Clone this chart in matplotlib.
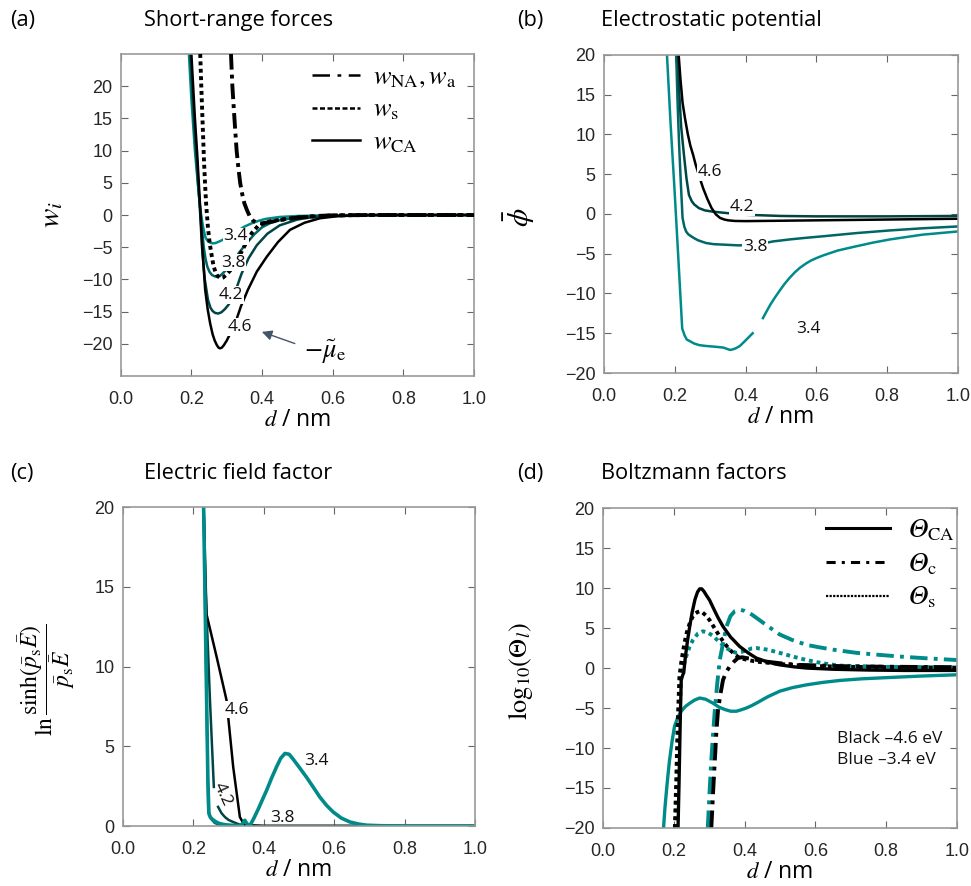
import numpy as np
import matplotlib
matplotlib.use("Agg")
import matplotlib.pyplot as plt

plt.rcParams['font.family'] = ['Liberation Sans', 'DejaVu Sans']
plt.rcParams['mathtext.fontset'] = 'stix'
nan = np.nan

# ---------------- data ----------------
# (a) short-range forces
a_NA_d = [0.312, 0.316, 0.320, 0.324, 0.328, 0.333, 0.338, 0.344, 0.350, 0.357, 0.365, 0.375, 0.385, 0.40, 0.42, 0.45, 0.5, 0.55, 0.6, 0.7, 0.8, 1.0]
a_NA_w = [25, 20, 16.5, 13.2, 10, 7.3, 5, 3.2, 1.8, 0.8, -0.2, -0.9, -1.2, -1.3, -1.1, -0.8, -0.4, -0.15, -0.05, 0, 0, 0]
a_s_d = [0.225, 0.228, 0.230, 0.233, 0.236, 0.239, 0.242, 0.247, 0.251, 0.255, 0.259, 0.263, 0.268, 0.272, 0.277, 0.283, 0.29, 0.30, 0.31, 0.32, 0.331, 0.342, 0.356, 0.371, 0.39, 0.42, 0.46, 0.5, 0.6, 0.7, 1.0]
a_s_w = [25, 20, 17, 12.5, 8, 4.5, 1.5, -2, -4, -5.5, -6.8, -8, -8.8, -9.3, -9.6, -9.8, -9.7, -9.2, -8.6, -7.8, -6.8, -5.7, -4.2, -2.8, -1.6, -1.0, -0.65, -0.4, -0.05, 0, 0]
a34_d = [0.193, 0.197, 0.200, 0.205, 0.210, 0.218, 0.225, 0.232, 0.236, 0.240, 0.245, 0.250, 0.256, 0.262, 0.268, 0.275, 0.287, 0.30, 0.315, 0.33, 0.35, 0.37, 0.39, 0.41, 0.45, 0.5, 0.6, 0.7, 1.0]
a34_w = [25, 21, 18, 14, 10, 5, 1, -1.5, -2.6, -3.5, -3.95, -4.2, -4.35, -4.4, -4.35, -4.2, -3.9, -3.5, -3.0, -2.5, -1.8, -1.3, -0.9, -0.6, -0.3, -0.15, -0.03, 0, 0]
a38_d = [0.196, 0.200, 0.203, 0.207, 0.212, 0.220, 0.228, 0.235, 0.240, 0.245, 0.251, 0.258, 0.265, 0.272, 0.28, 0.29, 0.30, 0.32, 0.337, 0.356, 0.378, 0.40, 0.425, 0.45, 0.5, 0.6, 0.7, 1.0]
a38_w = [25, 21, 18, 14, 10, 4, -1, -5, -6.8, -8, -8.8, -9.3, -9.5, -9.6, -9.5, -9.0, -8.4, -7, -5.7, -4.4, -3.0, -1.9, -1.2, -0.8, -0.35, -0.05, 0, 0]
a42_d = [0.198, 0.202, 0.206, 0.210, 0.215, 0.223, 0.230, 0.238, 0.247, 0.254, 0.26, 0.267, 0.276, 0.285, 0.295, 0.304, 0.314, 0.328, 0.342, 0.362, 0.385, 0.415, 0.45, 0.5, 0.545, 0.6, 0.7, 1.0]
a42_w = [25, 20.5, 17, 13, 9, 2, -5, -10, -13.2, -14.4, -14.9, -15.2, -15.3, -15.1, -14.6, -14.0, -13.2, -11.3, -9.1, -6.7, -4.7, -2.9, -1.6, -0.7, -0.3, -0.1, 0, 0]
a46_d = [0.200, 0.205, 0.210, 0.217, 0.225, 0.232, 0.239, 0.246, 0.253, 0.260, 0.266, 0.272, 0.277, 0.281, 0.286, 0.292, 0.30, 0.31, 0.324, 0.34, 0.36, 0.385, 0.413, 0.445, 0.479, 0.52, 0.564, 0.61, 0.65, 0.7, 0.75, 1.0]
a46_w = [25, 20, 15, 9, 1, -6, -11.6, -14.6, -16.8, -18.5, -19.5, -20.2, -20.6, -20.7, -20.6, -20.2, -19.5, -18.4, -16.8, -14.2, -11.6, -8.8, -6.5, -4.2, -2.3, -1.2, -0.5, -0.2, -0.1, -0.03, 0, 0]

# (b) electrostatic potential
b34_d = [0.178, 0.188, 0.199, 0.210, 0.221, 0.228, 0.234, 0.243, 0.255, 0.27, 0.288, 0.315, 0.337, 0.350, 0.356, 0.362, 0.372, 0.384, 0.40, 0.42, nan,
         0.449, 0.46, 0.47, 0.483, 0.497, 0.51, 0.525, 0.54, 0.554, 0.57, 0.585, 0.60, 0.62, 0.66, 0.714, 0.76, 0.808, 0.9, 1.0]
b34_p = [20, 11.5, 3.3, -5.5, -14.4, -15.3, -15.8, -16.0, -16.3, -16.5, -16.6, -16.7, -16.8, -17.0, -17.1, -17.05, -16.9, -16.6, -15.9, -15.0, nan,
         -13.1, -12.2, -11.4, -10.5, -9.6, -8.8, -8.0, -7.3, -6.75, -6.25, -5.85, -5.55, -5.2, -4.6, -4.05, -3.6, -3.2, -2.6, -2.2]
b38_d = [0.204, 0.208, 0.212, 0.217, 0.222, 0.227, 0.232, 0.238, 0.246, 0.255, 0.265, 0.288, 0.31, 0.335, 0.38, 0.427, 0.478, 0.525, 0.57, 0.62, 0.714, 0.808, 0.9, 1.0]
b38_p = [20, 14, 9, 4, -0.5, -1.6, -2.2, -2.55, -2.8, -3.05, -3.3, -3.65, -3.8, -3.85, -3.95, -3.9, -3.45, -3.2, -3.0, -2.8, -2.4, -2.07, -1.8, -1.57]
b42_d = [0.209, 0.213, 0.218, 0.226, 0.233, 0.240, 0.248, 0.255, 0.268, 0.285, 0.306, 0.35, 0.4, 0.5, 0.6, 0.8, 1.0]
b42_p = [20, 15, 11, 7.4, 4.5, 2.4, 1.6, 1.2, 0.74, 0.45, 0.3, 0.1, -0.1, -0.25, -0.3, -0.3, -0.25]
b46_d = [0.211, 0.216, 0.222, 0.229, 0.237, 0.244, 0.252, 0.259, 0.266, 0.273, 0.280, 0.292, 0.304, 0.316, 0.328, 0.34, 0.351, 0.37, 0.4, 0.6, 0.8, 1.0]
b46_p = [20, 17, 14, 12, 10, 8.6, 7.4, 6.2, 5.2, 4.2, 3.25, 1.9, 0.74, -0.05, -0.5, -0.7, -0.8, -0.88, -0.9, -0.8, -0.7, -0.6]

# (c) electric field factor
c34_d = [0.229, 0.236, 0.241, 0.244, 0.248, 0.255, 0.265, 0.275, 0.29, 0.312, 0.335, 0.341, 0.346, 0.352, 0.36, 0.372, 0.385, 0.397, 0.408, 0.422, 0.436,
         0.448, 0.46, 0.472, 0.483, 0.50, 0.521, 0.54, 0.559, 0.578, 0.597, 0.62, 0.645, 0.67, 0.692, 0.73, 0.8, 1.0]
c34_y = [20, 10, 3, 0.78, 0.55, 0.4, 0.25, 0.15, 0.08, 0.04, 0.02, 0.2, 0.36, 0.15, 0.0, 0.5, 1.1, 1.7, 2.24, 3.0, 3.7,
         4.25, 4.55, 4.5, 4.2, 3.7, 3.07, 2.45, 1.82, 1.3, 0.88, 0.5, 0.25, 0.12, 0.05, 0.02, 0, 0]
c38_d = [0.229, 0.236, 0.242, 0.25, 0.26, 0.27, 0.285, 0.3, 0.35, 0.5, 1.0]
c38_y = [20, 10, 1.0, 0.45, 0.2, 0.1, 0.05, 0.02, 0.0, 0.0, 0.0]
c42_d = [0.229, 0.237, 0.247, 0.258, nan, 0.27, 0.28, 0.29, 0.30, 0.313, 0.33, 0.342, 0.4, 1.0]
c42_y = [20, 13.5, 7.9, 2.45, nan, 1.2, 0.8, 0.55, 0.38, 0.25, 0.1, 0.04, 0.0, 0.0]
c46_d = [0.229, 0.233, 0.237, 0.266, 0.294, 0.313, 0.332, 0.345, 0.4, 1.0]
c46_y = [20, 16, 13.3, 10.6, 7.9, 3.7, 0.56, 0.05, 0.0, 0.0]

# (d) Boltzmann factors
dCA46_d = [0.212, 0.215, 0.218, 0.221, 0.225, 0.228, 0.233, 0.239, 0.245, 0.252, 0.26, 0.267, 0.273, 0.279, 0.285, 0.292, 0.301, 0.315, 0.325, 0.339,
           0.36, 0.386, 0.41, 0.433, 0.465, 0.499, 0.54, 0.575, 0.65, 0.75, 0.85, 1.0]
dCA46_y = [-20, -14, -7, -1.5, -0.9, -0.6, 1.5, 3.5, 5.2, 7.0, 8.6, 9.5, 9.9, 9.9, 9.6, 9.1, 8.5, 7.2, 6.3, 5.2,
           3.9, 2.7, 1.9, 1.25, 0.75, 0.4, 0.15, 0.0, -0.15, -0.25, -0.3, -0.3]
dc46_d = [0.306, 0.311, 0.316, 0.32, 0.325, 0.332, 0.339, 0.348, 0.358, 0.37, 0.381, 0.393, 0.405, 0.43, 0.462, 0.5, 0.55, 0.7, 1.0]
dc46_y = [-20, -15.5, -11.5, -8.2, -5.2, -3.2, -1.5, -0.5, 0.2, 0.8, 1.25, 1.35, 1.25, 1.05, 0.8, 0.6, 0.4, 0.2, 0.1]
ds46_d = [0.203, 0.207, 0.211, 0.216, 0.222, 0.23, 0.237, 0.245, 0.253, 0.26, 0.267, 0.273, 0.28, 0.29, 0.301, 0.315, 0.329, 0.343, 0.358, 0.372,
          0.386, 0.41, 0.433, 0.48, 0.527, 0.6, 0.7, 1.0]
ds46_y = [-20, -14, -7, -1.05, 1.0, 3.1, 4.5, 5.6, 6.4, 6.8, 7.0, 7.1, 7.0, 6.6, 6.0, 5.0, 4.0, 3.1, 2.3, 1.7,
          1.25, 1.0, 0.8, 0.6, 0.4, 0.25, 0.15, 0.05]
dCA34_d = [0.171, 0.175, 0.18, 0.184, 0.188, 0.195, 0.202, 0.211, 0.221, 0.233, 0.245, 0.259, 0.273, 0.29, 0.311, 0.328, 0.345, 0.361, 0.377, 0.392,
           0.405, 0.42, 0.433, 0.465, 0.499, 0.535, 0.575, 0.62, 0.669, 0.73, 0.8, 0.9, 1.0]
dCA34_y = [-20, -17.5, -15, -13.2, -11.5, -9.2, -7.3, -6.2, -5.4, -4.8, -4.4, -4.0, -3.75, -3.9, -4.4, -4.9, -5.2, -5.4, -5.4, -5.2,
           -5.0, -4.7, -4.4, -3.6, -2.9, -2.45, -2.1, -1.8, -1.55, -1.35, -1.2, -1.0, -0.84]
dc34_d = [0.296, 0.301, 0.306, 0.311, 0.316, 0.323, 0.33, 0.34, 0.349, 0.36, 0.372, 0.386, 0.40, 0.42, 0.442, 0.47, 0.499, 0.535, 0.575, 0.61, 0.65,
          0.716, 0.78, 0.85, 0.92, 1.0]
dc34_y = [-20, -15.5, -11.5, -8.2, -5.2, -1.8, 1.05, 3.3, 5.2, 6.5, 7.1, 7.3, 7.15, 6.7, 6.0, 5.1, 4.2, 3.5, 2.9, 2.6, 2.3,
          1.9, 1.65, 1.4, 1.2, 1.0]
ds34_d = [0.205, 0.209, 0.213, 0.217, 0.221, 0.228, 0.235, 0.244, 0.254, 0.268, 0.282, 0.296, 0.311, 0.33, 0.349, 0.363, 0.377, 0.39, 0.405, 0.42,
          0.433, 0.465, 0.499, 0.535, 0.575, 0.62, 0.669, 0.8, 1.0]
ds34_y = [-20, -15, -10, -5, -1.05, 0.3, 1.45, 2.6, 3.5, 4.3, 4.6, 4.45, 4.0, 3.2, 2.5, 2.1, 1.9, 2.0, 2.2, 2.45,
          2.5, 2.3, 1.9, 1.45, 1.0, 0.6, 0.3, 0.15, 0.1]

x_ticks = [0.0, 0.2, 0.4, 0.6, 0.8, 1.0]

# ---------------- style ----------------
TEAL = '#008B8B'
C38 = '#006666'
C42 = '#004545'
BLK = '#000000'
FRAME = '#999999'
TICKC = '#262626'
TFONT = ['Open Sans', 'DejaVu Sans']

fig = plt.figure(figsize=(9.71, 8.86), dpi=100)
axA = fig.add_axes([0.1243, 0.5756, 0.3640, 0.3634])
axB = fig.add_axes([0.6220, 0.5790, 0.3646, 0.3590])
axC = fig.add_axes([0.1267, 0.0677, 0.3625, 0.3600])
axD = fig.add_axes([0.6210, 0.0655, 0.3646, 0.3610])


def style(ax, ylim, yticks):
    ax.set_xlim(0, 1)
    ax.set_ylim(*ylim)
    ax.set_xticks(x_ticks)
    ax.set_xticklabels([f'{t:.1f}' for t in x_ticks])
    ax.set_yticks(yticks)
    ax.tick_params(direction='in', top=True, right=True, length=5, width=0.8,
                   color='#666666', labelsize=13, labelcolor=TICKC)
    ax.tick_params(axis='x', pad=11)
    ax.tick_params(axis='y', pad=6)
    for s in ax.spines.values():
        s.set_color(FRAME)
        s.set_linewidth(1.2)
    ax.set_xlabel(r'$d$ / nm', fontsize=16.5, family=TFONT, labelpad=0)


def lab(ax, x, y, s, rot=0, box=True):
    kw = dict(fontsize=12.5, family=TFONT, ha='center', va='center', rotation=rot,
              color='#111111', zorder=5)
    if box:
        kw['bbox'] = dict(facecolor='white', edgecolor='none', pad=0.5)
    ax.text(x, y, s, **kw)

DASHDOT = (0, (4, 1.3, 1, 1.3))

# (a)
ax = axA
style(ax, (-25, 25), list(range(-20, 21, 5)))
ax.plot(a34_d, a34_w, color=TEAL, lw=1.8, zorder=2)
ax.plot(a38_d, a38_w, color=C38, lw=1.8, zorder=2)
ax.plot(a42_d, a42_w, color=C42, lw=1.8, zorder=2)
ax.plot(a46_d, a46_w, color=BLK, lw=1.8, zorder=2)
ax.plot(a_s_d, a_s_w, color=BLK, lw=2.8, ls=(0, (1, 0.9)), zorder=3)
ax.plot(a_NA_d, a_NA_w, color=BLK, lw=2.8, ls=DASHDOT, zorder=3)
lab(ax, 0.325, -3.3, '3.4')
lab(ax, 0.318, -7.4, '3.8')
lab(ax, 0.312, -12.4, '4.2')
lab(ax, 0.337, -17.4, '4.6')
hNA, = ax.plot([], [], color=BLK, lw=1.8, ls=(0, (7, 3, 1.5, 3)))
hS, = ax.plot([], [], color=BLK, lw=1.8, ls=(0, (2, 1)))
hCA, = ax.plot([], [], color=BLK, lw=1.8)
ax.legend([hNA, hS, hCA], [r'$w_\mathrm{NA},w_\mathrm{a}$', r'$w_\mathrm{s}$', r'$w_\mathrm{CA}$'],
          loc='upper left', bbox_to_anchor=(0.54, 0.965), frameon=False, fontsize=19,
          borderpad=0, borderaxespad=0,
          handlelength=1.82, handletextpad=0.5, labelspacing=0.3)
ax.annotate('', xy=(0.392, -18.0), xytext=(0.5, -20.1),
            arrowprops=dict(arrowstyle='-|>', color='#44546A', lw=1.0, mutation_scale=15))
ax.text(0.52, -21.3, r'$-\tilde{\mu}_\mathrm{e}$', fontsize=19, ha='left', va='center')
ax.set_ylabel(r'$w_i$', fontsize=21)
ax.yaxis.set_label_coords(-0.157, 0.5)

# (b)
ax = axB
style(ax, (-20, 20), list(range(-20, 21, 5)))
ax.plot(b34_d, b34_p, color=TEAL, lw=1.8)
ax.plot(b38_d, b38_p, color=C38, lw=1.8)
ax.plot(b42_d, b42_p, color=C42, lw=1.8)
ax.plot(b46_d, b46_p, color=BLK, lw=1.8)
lab(ax, 0.298, 5.3, '4.6')
lab(ax, 0.389, 0.9, '4.2')
lab(ax, 0.427, -4.2, '3.8')
lab(ax, 0.578, -14.5, '3.4')
ax.set_ylabel(r'$\bar{\phi}$', fontsize=21)
ax.yaxis.set_label_coords(-0.19, 0.49)

# (c)
ax = axC
style(ax, (0, 20), [0, 5, 10, 15, 20])
ax.plot(c38_d, c38_y, color=C38, lw=1.8)
ax.plot(c42_d, c42_y, color=C42, lw=1.8)
ax.plot(c46_d, c46_y, color=BLK, lw=1.8)
ax.plot(c34_d, c34_y, color=TEAL, lw=2.6)
lab(ax, 0.324, 7.3, '4.6')
lab(ax, 0.282, 2.0, '4.2', rot=-65, box=False)
lab(ax, 0.452, 0.5, '3.8', box=False)
lab(ax, 0.549, 4.1, '3.4', box=False)
ax.set_ylabel(r'$\ln\dfrac{\sinh(\bar{p}_\mathrm{s}\bar{E})}{\bar{p}_\mathrm{s}\bar{E}}$', fontsize=17)
ax.yaxis.set_label_coords(-0.13, 0.46)

# (d)
ax = axD
style(ax, (-20, 20), list(range(-20, 21, 5)))
DD = (0, (4.5, 1.6, 1, 1.6))
ax.plot(dCA34_d, dCA34_y, color=TEAL, lw=2.4)
ax.plot(ds34_d, ds34_y, color=TEAL, lw=2.8, ls=(0, (1, 1)))
ax.plot(dc34_d, dc34_y, color=TEAL, lw=2.8, ls=DD)
ax.plot(ds46_d, ds46_y, color=BLK, lw=2.8, ls=(0, (1, 1)))
ax.plot(dc46_d, dc46_y, color=BLK, lw=2.8, ls=DD)
ax.plot(dCA46_d, dCA46_y, color=BLK, lw=2.4)
h1, = ax.plot([], [], color=BLK, lw=2.2)
h2, = ax.plot([], [], color=BLK, lw=2.2, ls=(0, (3, 2, 1, 2)))
h3, = ax.plot([], [], color=BLK, lw=1.6, ls=(0, (1, 0.6)))
ax.legend([h1, h2, h3], ['$\U0001D6E9_\\mathrm{CA}$', '$\U0001D6E9_\\mathrm{c}$', '$\U0001D6E9_\\mathrm{s}$'],
          loc='upper left', bbox_to_anchor=(0.631, 0.97), frameon=False, fontsize=19,
          borderpad=0, borderaxespad=0,
          handlelength=2.4, handletextpad=0.7, labelspacing=0.3)
ax.text(0.66, -10.2, 'Black \u20134.6 eV\nBlue \u20133.4 eV', fontsize=12.5, family=TFONT,
        ha='left', va='center', linespacing=1.45, color='#111111')
ax.set_ylabel(r'$\mathrm{log}_{10}(\Theta_l)$', fontsize=19)
ax.yaxis.set_label_coords(-0.192, 0.49)

# titles
TS = 15.7
fig.text(0.010, 0.977, '(a)', fontsize=TS, family=TFONT, va='center')
fig.text(0.246, 0.977, 'Short-range forces', fontsize=TS, family=TFONT, va='center', ha='center')
fig.text(0.533, 0.977, '(b)', fontsize=TS, family=TFONT, va='center')
fig.text(0.619, 0.977, 'Electrostatic potential', fontsize=TS, family=TFONT, va='center')
fig.text(0.010, 0.466, '(c)', fontsize=TS, family=TFONT, va='center')
fig.text(0.148, 0.466, 'Electric field factor', fontsize=TS, family=TFONT, va='center')
fig.text(0.533, 0.466, '(d)', fontsize=TS, family=TFONT, va='center')
fig.text(0.619, 0.466, 'Boltzmann factors', fontsize=TS, family=TFONT, va='center')

fig.savefig('out.png', dpi=100)
